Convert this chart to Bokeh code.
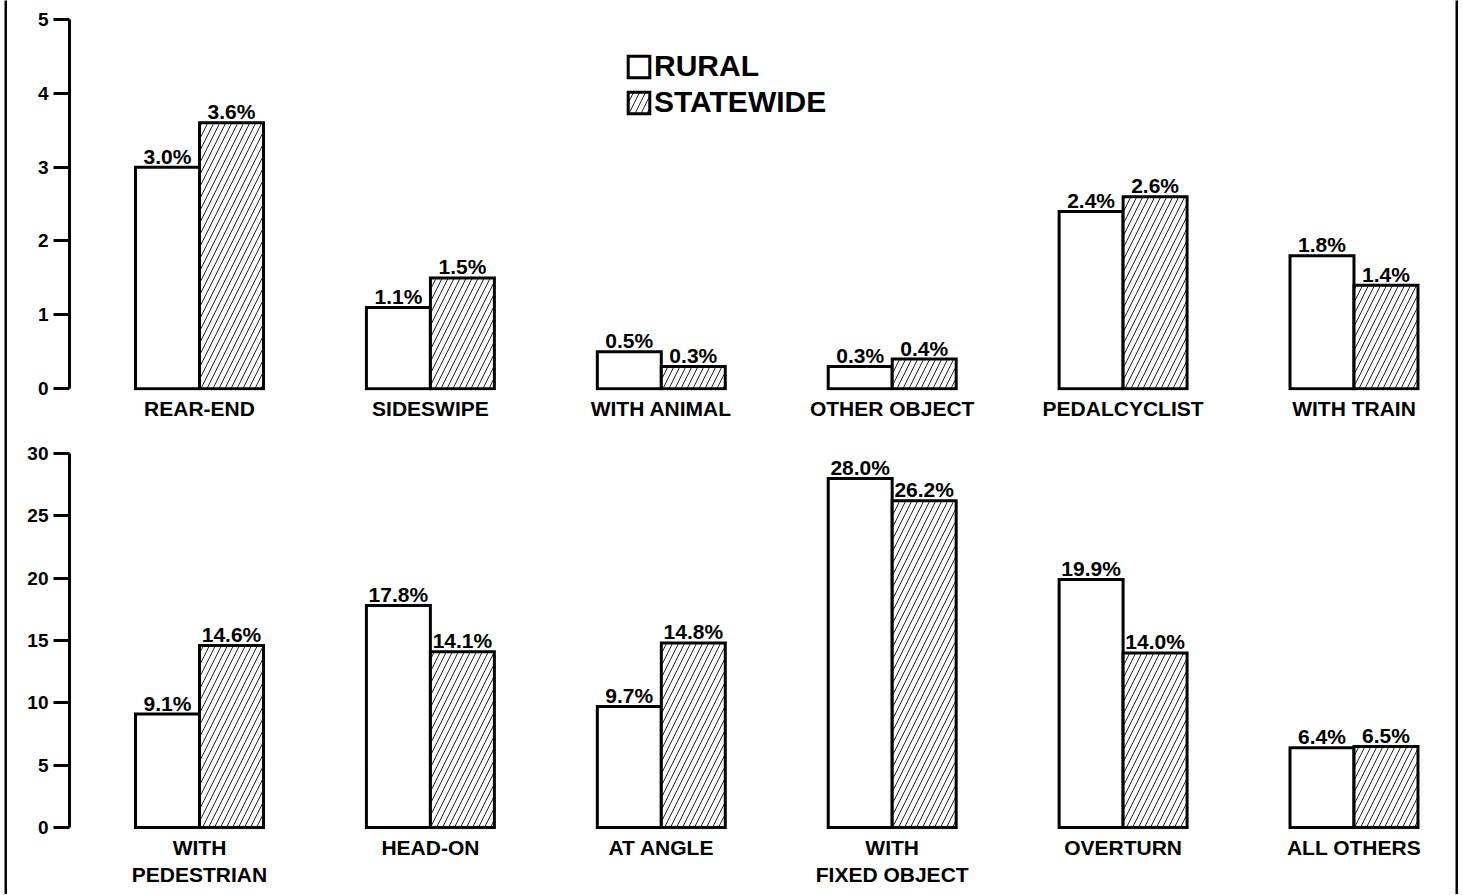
from bokeh.plotting import figure
from bokeh.models import Range1d, FixedTicker, ColumnDataSource, Legend, LegendItem, Spacer
from bokeh.layouts import row, column
from bokeh.core.properties import value
from bokeh.embed import file_html
from bokeh.resources import INLINE

# ---- data ----
categories_top = ["REAR-END", "SIDESWIPE", "WITH ANIMAL", "OTHER OBJECT", "PEDALCYCLIST", "WITH TRAIN"]
rural_top = [3.0, 1.1, 0.5, 0.3, 2.4, 1.8]
statewide_top = [3.6, 1.5, 0.3, 0.4, 2.6, 1.4]
yticks_top = [0, 1, 2, 3, 4, 5]

categories_bottom = ["WITH\nPEDESTRIAN", "HEAD-ON", "AT ANGLE", "WITH\nFIXED OBJECT", "OVERTURN", "ALL OTHERS"]
rural_bottom = [9.1, 17.8, 9.7, 28.0, 19.9, 6.4]
statewide_bottom = [14.6, 14.1, 14.8, 26.2, 14.0, 6.5]
yticks_bottom = [0, 5, 10, 15, 20, 25, 30]

series_names = ["RURAL", "STATEWIDE"]

FONT = "Liberation Sans"
BAR_W = 0.277
OFF = 0.1386


def make_panel(cats, rural, state, yticks, ystart, height, mbt, mbb, with_legend=False):
    ymax = yticks[-1]
    p = figure(width=1448, height=height,
               x_range=Range1d(-0.563, 5.4396), y_range=Range1d(ystart, ymax),
               output_backend="svg", toolbar_location=None,
               min_border_left=62, min_border_right=0,
               min_border_top=mbt, min_border_bottom=mbb,
               background_fill_color="white", border_fill_color="white")
    p.outline_line_color = None
    p.grid.visible = False

    idx = list(range(len(cats)))
    src_r = ColumnDataSource(dict(x=[i - OFF for i in idx], top=rural,
                                  lab=["%.1f%%" % v for v in rural]))
    src_s = ColumnDataSource(dict(x=[i + OFF for i in idx], top=state,
                                  lab=["%.1f%%" % v for v in state]))

    r1 = p.vbar(x="x", top="top", bottom=0, width=BAR_W, source=src_r,
                fill_color="white", line_color="black", line_width=3,
                line_join="miter")
    r2 = p.vbar(x="x", top="top", bottom=0, width=BAR_W, source=src_s,
                fill_color="white", line_color="black", line_width=3,
                line_join="miter",
                hatch_pattern="/", hatch_color="#222222", hatch_scale=12,
                hatch_weight=1)

    for src in (src_r, src_s):
        p.text(x="x", y="top", text="lab", source=src,
               text_align="center", text_baseline="alphabetic", y_offset=-11,
               text_font=value(FONT), text_font_style="bold", text_font_size="21px",
               text_color="black")

    # x axis: category names under groups
    xa = p.xaxis[0]
    xa.ticker = FixedTicker(ticks=idx)
    xa.major_label_overrides = {i: c for i, c in zip(idx, cats)}
    xa.axis_line_color = None
    xa.major_tick_line_color = None
    xa.minor_tick_line_color = None
    xa.major_tick_out = 0
    xa.major_tick_in = 0
    xa.major_label_standoff = 6
    xa.major_label_text_font = FONT
    xa.major_label_text_font_style = "bold"
    xa.major_label_text_font_size = "21px"
    xa.major_label_text_color = "black"

    ya = p.yaxis[0]
    ya.ticker = FixedTicker(ticks=yticks)
    ya.bounds = (0, ymax)
    ya.axis_line_width = 3
    ya.axis_line_color = "black"
    ya.major_tick_line_width = 3
    ya.major_tick_line_color = "black"
    ya.major_tick_out = 16
    ya.major_tick_in = 0
    ya.minor_tick_line_color = None
    ya.major_label_standoff = 5
    ya.major_label_text_font = FONT
    ya.major_label_text_font_style = "bold"
    ya.major_label_text_font_size = "19px"
    ya.major_label_text_color = "black"

    if with_legend:
        leg = Legend(items=[LegendItem(label=series_names[0], renderers=[r1]),
                            LegendItem(label=series_names[1], renderers=[r2])],
                     location=(556, 271), orientation="vertical",
                     border_line_color=None, background_fill_alpha=0,
                     padding=0, margin=0, spacing=2,
                     glyph_width=27, glyph_height=27, label_height=27,
                     label_standoff=2, label_text_font=FONT,
                     label_text_font_style="bold", label_text_font_size="30px",
                     label_text_color="black")
        p.add_layout(leg)
    return p


p_top = make_panel(categories_top, rural_top, statewide_top, yticks_top,
                   -0.025, 430, 19, 40, with_legend=True)
p_bot = make_panel(categories_bottom, rural_bottom, statewide_bottom, yticks_bottom,
                   -0.16, 464, 23, 65)


def strip():
    s = figure(width=3, height=894, output_backend="svg", toolbar_location=None,
               x_axis_type=None, y_axis_type=None, min_border=0,
               background_fill_color="black", border_fill_color="black")
    s.outline_line_color = None
    s.grid.visible = False
    return s


layout = row(Spacer(width=4, height=894), strip(), column(p_top, p_bot), strip())

with open("out.html", "w") as f:
    f.write(file_html(layout, INLINE))
